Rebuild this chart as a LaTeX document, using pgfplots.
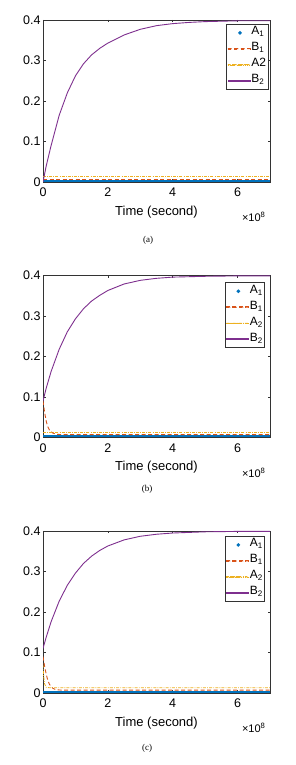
\documentclass[border=0pt]{standalone}
\usepackage{pgfplots}
\pgfplotsset{compat=1.18}
\usepackage{fontspec}
\setmainfont{Liberation Sans}
\newfontfamily\capfont{Liberation Serif}
\definecolor{mblue}{RGB}{0,114,189}
\definecolor{mred}{RGB}{217,83,25}
\definecolor{myellow}{RGB}{237,177,32}
\definecolor{mpurple}{RGB}{126,47,142}
\definecolor{axgray}{gray}{0.2}
\tikzset{
  lB1/.style={draw=mred, line width=0.9pt, dash pattern=on 4pt off 2.5pt},
  lA2/.style={draw=myellow, line width=0.8pt, dash pattern=on 3pt off 1.2pt on 0.8pt off 1.2pt},
  lB2/.style={draw=mpurple, line width=0.9pt},
}
\pgfplotsset{myaxis/.style={
  scale only axis, width=227pt, height=162pt,
  xmin=0, xmax=7, ymin=0, ymax=0.4,
  xtick={0,2,4,6}, xticklabels={0,2,4,6},
  ytick={0,0.1,0.2,0.3,0.4}, yticklabels={0,0.1,0.2,0.3,0.4},
  tick align=inside, xtick pos=both, ytick pos=both,
  xticklabel pos=lower, yticklabel pos=left,
  major tick length=2.5pt,
  axis line style={draw=axgray, line width=0.6pt},
  every tick/.style={draw=axgray, line width=0.5pt},
  tick label style={font=\fontsize{12.5}{14}\selectfont},
  yticklabel style={xshift=1pt},
  xticklabel style={yshift=-2.5pt},
  xlabel={Time (second)},
  xlabel style={font=\fontsize{13}{15}\selectfont, at={(axis description cs:0.5,0)}, anchor=center, yshift=-30pt},
  legend cell align=left,
  legend style={draw=axgray, line width=0.6pt, font=\fontsize{12}{14}\selectfont, inner sep=1pt, row sep=1pt,
    nodes={inner sep=1pt, text height=8.5pt, text depth=4.5pt}},
}}
\pgfplotsset{
  sA1/.style={color=mblue, line width=2pt, legend image code/.code={\fill[mblue] (12pt,0pt) circle (0.55pt);}},
  sB1/.style={lB1, legend image code/.code={\fill[mred] (0pt,-0.35pt) rectangle (4pt,0.35pt) (6.5pt,-0.35pt) rectangle (10.5pt,0.35pt) (13pt,-0.35pt) rectangle (17pt,0.35pt) (19.5pt,-0.35pt) rectangle (22pt,0.35pt);}},
  sA2/.style={lA2, legend image code/.code={\fill[myellow] (0pt,-0.35pt) rectangle (3pt,0.35pt) (4.2pt,-0.35pt) rectangle (5pt,0.35pt) (6.2pt,-0.35pt) rectangle (9.2pt,0.35pt) (10.4pt,-0.35pt) rectangle (11.2pt,0.35pt) (12.4pt,-0.35pt) rectangle (15.4pt,0.35pt) (16.6pt,-0.35pt) rectangle (17.4pt,0.35pt) (18.6pt,-0.35pt) rectangle (21.6pt,0.35pt);}},
  sB2/.style={lB2, legend image code/.code={\fill[mpurple] (0pt,-0.38pt) rectangle (22pt,0.38pt);}},
}
\newcommand{\timesten}[1]{\node[anchor=east, font=\fontsize{11}{13}\selectfont] at ([yshift=-35pt,xshift=-1pt]#1.south east) {×10\textsuperscript{8}};}
\begin{document}
\begin{tikzpicture}[x=1pt,y=1pt]
\useasboundingbox (0,0) rectangle (296,765);
% ---------- (a)
\begin{axis}[myaxis, name=axa, at={(43pt,583pt)}, anchor=south west,
  legend style={at={(rel axis cs:0.993,0.975)}, anchor=north east}]
\addplot[sA1] coordinates {(0,0.0025) (7,0.0025)};
\addlegendentry{A\textsubscript{1}}
\addplot[sB1] coordinates {(0,0.007) (7,0.007)};
\addlegendentry{B\textsubscript{1}}
\addplot[sA2] coordinates {(0,0.014) (7,0.014)};
\addlegendentry{A2}
\addplot[sB2] coordinates {(0,0) (0.1,0.04) (0.25,0.09) (0.5,0.165) (0.75,0.22) (1,0.262) (1.25,0.292) (1.5,0.314) (1.75,0.33) (2,0.343) (2.5,0.363) (3,0.377) (3.5,0.386) (4,0.391) (4.5,0.394) (5,0.396) (5.5,0.397) (6,0.398) (7,0.398)};
\addlegendentry{B\textsubscript{2}}
\end{axis}
% ---------- (b)
\begin{axis}[myaxis, name=axb, at={(43pt,327.5pt)}, anchor=south west,
  legend style={at={(rel axis cs:0.978,0.957)}, anchor=north east}]
\addplot[sA1] coordinates {(0,0.0025) (7,0.0025)};
\addlegendentry{A\textsubscript{1}}
\addplot[sB1] coordinates {(0,0.09) (0.05,0.062) (0.1,0.04) (0.15,0.026) (0.2,0.018) (0.3,0.011) (0.4,0.008) (0.6,0.007) (7,0.007)};
\addlegendentry{B\textsubscript{1}}
\addplot[sA2] coordinates {(0,0.013) (7,0.013)};
\addlegendentry{A\textsubscript{2}}
\addplot[sB2] coordinates {(0,0.09) (0.1,0.122) (0.25,0.163) (0.5,0.218) (0.75,0.261) (1,0.293) (1.25,0.318) (1.5,0.337) (1.75,0.351) (2,0.363) (2.5,0.379) (3,0.388) (3.5,0.393) (4,0.396) (5,0.398) (6,0.399) (7,0.399)};
\addlegendentry{B\textsubscript{2}}
\end{axis}
% ---------- (c)
\begin{axis}[myaxis, name=axc, at={(43pt,72pt)}, anchor=south west,
  legend style={at={(rel axis cs:0.978,0.968)}, anchor=north east}]
\addplot[sA1] coordinates {(0,0.0025) (7,0.0025)};
\addlegendentry{A\textsubscript{1}}
\addplot[sB1] coordinates {(0,0.09) (0.05,0.066) (0.1,0.046) (0.15,0.031) (0.2,0.021) (0.3,0.012) (0.4,0.008) (0.6,0.007) (7,0.007)};
\addlegendentry{B\textsubscript{1}}
\addplot[sA2] coordinates {(0,0.07) (0.02,0.042) (0.05,0.022) (0.1,0.014) (0.2,0.013) (7,0.013)};
\addlegendentry{A\textsubscript{2}}
\addplot[sB2] coordinates {(0,0.11) (0.1,0.138) (0.25,0.176) (0.5,0.227) (0.75,0.266) (1,0.296) (1.25,0.32) (1.5,0.338) (1.75,0.352) (2,0.363) (2.5,0.378) (3,0.387) (3.5,0.392) (4,0.395) (5,0.398) (6,0.399) (7,0.399)};
\addlegendentry{B\textsubscript{2}}
\end{axis}
\timesten{axa}
\timesten{axb}
\timesten{axc}
\node[font=\capfont\fontsize{9}{11}\selectfont] at (148,525) {(a)};
\node[font=\capfont\fontsize{9}{11}\selectfont] at (147,276) {(b)};
\node[font=\capfont\fontsize{9}{11}\selectfont] at (147,17) {(c)};
\end{tikzpicture}
\end{document}
